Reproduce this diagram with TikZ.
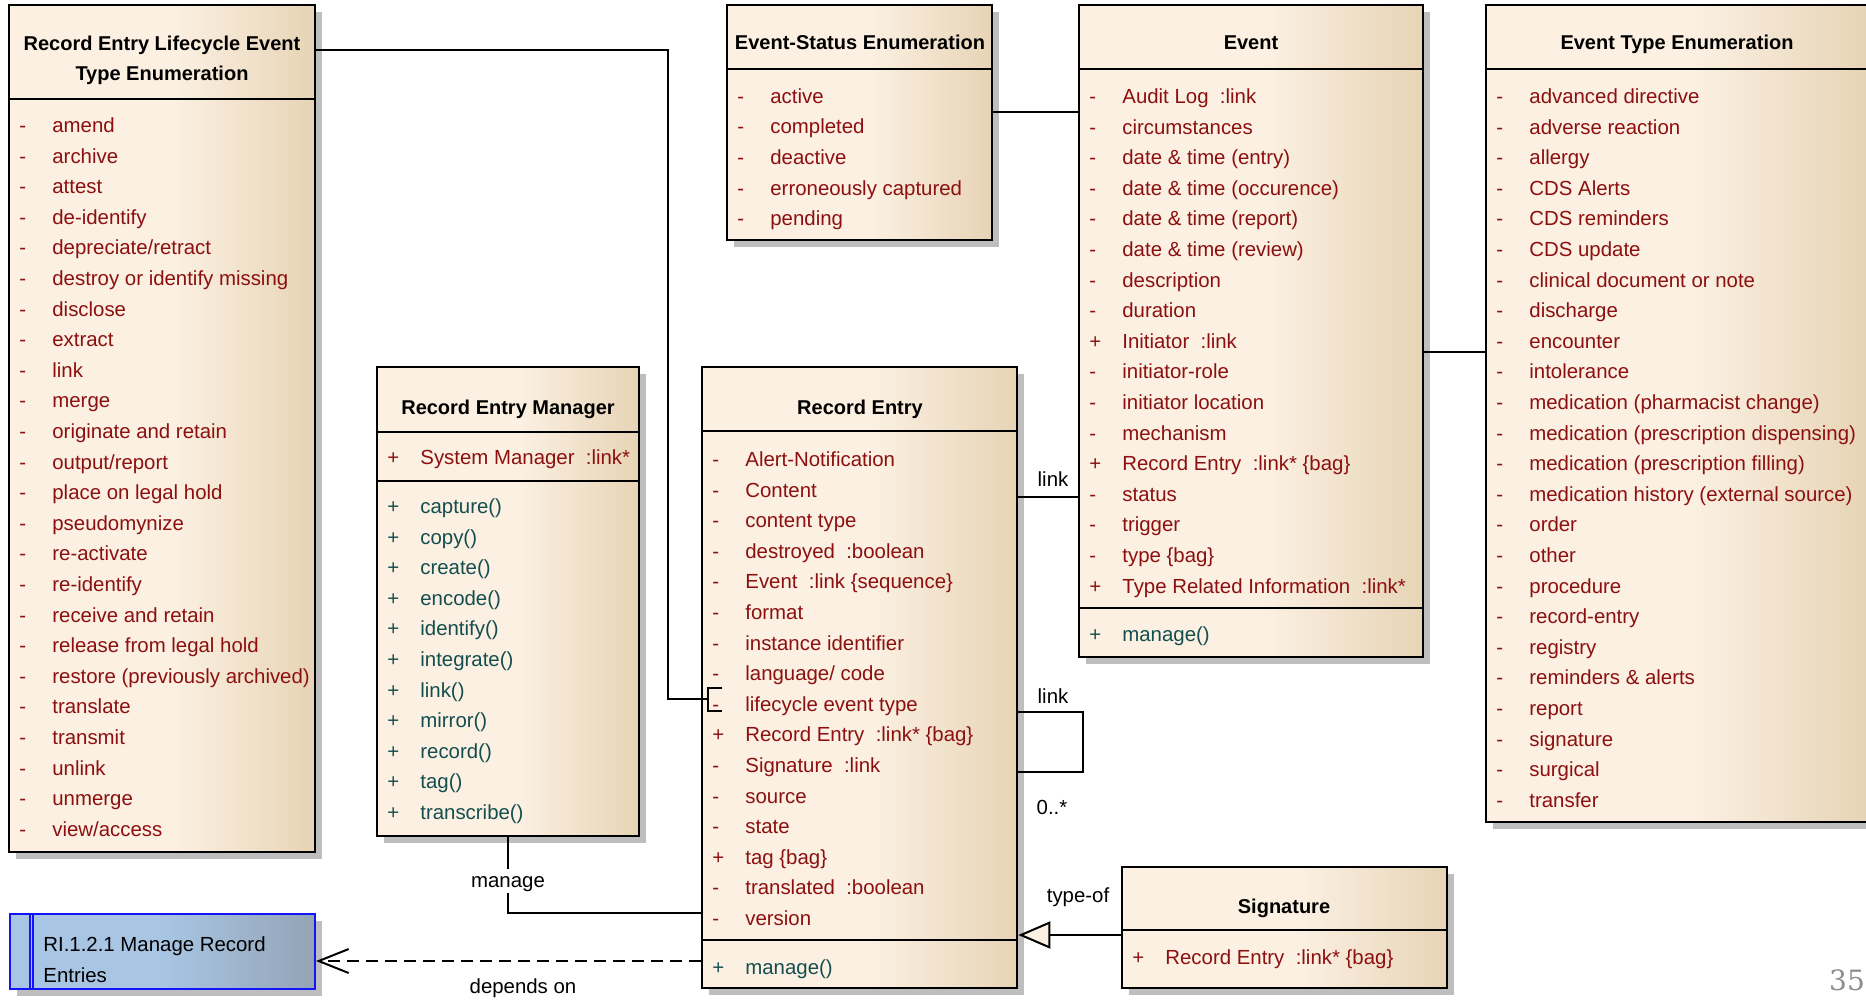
\documentclass[tikz,border=0pt]{standalone}
\usepackage{fontspec}
\setmainfont{Liberation Sans}
\newfontfamily\pagenumfont{DejaVu Serif}
\usetikzlibrary{fit,shadows,arrows.meta}

\definecolor{umlcream}{RGB}{251,240,226}
\definecolor{umltan}{RGB}{231,212,182}
\definecolor{attrred}{RGB}{140,16,16}
\definecolor{opteal}{RGB}{20,78,78}
\definecolor{reqblue}{RGB}{168,197,228}
\definecolor{reqgrey}{RGB}{148,164,182}
\definecolor{reqline}{RGB}{20,20,250}
\definecolor{shadowgrey}{RGB}{190,190,190}
\definecolor{pagegrey}{RGB}{140,140,140}

\pgfdeclarehorizontalshading{umlfill}{100bp}{color(0bp)=(umlcream); color(25bp)=(umlcream); color(52bp)=(umlcream); color(75bp)=(umltan); color(100bp)=(umltan)}
\pgfdeclarehorizontalshading{reqfill}{100bp}{color(0bp)=(reqblue); color(25bp)=(reqblue); color(50bp)=(reqblue); color(75bp)=(reqgrey); color(100bp)=(reqgrey)}

\newcommand{\umlfont}{\fontsize{10.2pt}{15.3pt}\selectfont}
\newcommand{\mk}[1]{\rule{0pt}{8pt}\makebox[16.5pt][l]{#1}}

\begin{document}
\begin{tikzpicture}[x=0.5pt,y=-0.5pt,
    classbox/.style={draw=black,line width=1.3pt,shade,shading=umlfill,inner sep=0pt,
      drop shadow={shadow xshift=3.5pt,shadow yshift=-3.5pt,fill=shadowgrey,opacity=1}},
    reqbox/.style={draw=reqline,line width=1pt,shade,shading=reqfill,inner sep=0pt,
      drop shadow={shadow xshift=3.5pt,shadow yshift=-3.5pt,fill=shadowgrey,opacity=1}},
    umltitle/.style={font=\bfseries\fontsize{10pt}{15pt}\selectfont,anchor=base,inner sep=0pt},
    attrs/.style={font=\umlfont,text=attrred,align=left,anchor=north west,inner sep=0pt},
    ops/.style={attrs,text=opteal},
    lbl/.style={font=\umlfont,anchor=base,inner sep=0pt},
    rulesep/.style={draw=black,line width=1.3pt},
    assoc/.style={draw=black,line width=1pt}]
  \useasboundingbox (0,0) rectangle (1866,1000);

  \node[classbox,fit={(9,5) (315,852)}] (lifecycle) {};
  \node[umltitle,anchor=north,align=center] (lifecycletitle) at (162,34)
    {\rule{0pt}{8pt}Record Entry Lifecycle Event\\Type Enumeration};
  \draw[rulesep] (9,99) -- (315,99);
  \node[attrs] (lifecycleattrs) at (19,116) {%
    \mk{-}amend\\
    \mk{-}archive\\
    \mk{-}attest\\
    \mk{-}de-identify\\
    \mk{-}depreciate/retract\\
    \mk{-}destroy or identify missing\\
    \mk{-}disclose\\
    \mk{-}extract\\
    \mk{-}link\\
    \mk{-}merge\\
    \mk{-}originate and retain\\
    \mk{-}output/report\\
    \mk{-}place on legal hold\\
    \mk{-}pseudomynize\\
    \mk{-}re-activate\\
    \mk{-}re-identify\\
    \mk{-}receive and retain\\
    \mk{-}release from legal hold\\
    \mk{-}restore (previously archived)\\
    \mk{-}translate\\
    \mk{-}transmit\\
    \mk{-}unlink\\
    \mk{-}unmerge\\
    \mk{-}view/access};

  \node[classbox,fit={(727,5) (992,240)}] (evstatus) {};
  \node[umltitle] (evstatustitle) at (860,50) {Event-Status Enumeration};
  \draw[rulesep] (727,69) -- (992,69);
  \node[attrs] (evstatusattrs) at (737,87) {%
    \mk{-}active\\
    \mk{-}completed\\
    \mk{-}deactive\\
    \mk{-}erroneously captured\\
    \mk{-}pending};

  \node[classbox,fit={(1079,5) (1423,657)}] (event) {};
  \node[umltitle] (eventtitle) at (1251,50) {Event};
  \draw[rulesep] (1079,69) -- (1423,69);
  \draw[rulesep] (1079,608) -- (1423,608);
  \node[attrs] (eventattrs) at (1089,87) {%
    \mk{-}Audit Log~~:link\\
    \mk{-}circumstances\\
    \mk{-}date \& time (entry)\\
    \mk{-}date \& time (occurence)\\
    \mk{-}date \& time (report)\\
    \mk{-}date \& time (review)\\
    \mk{-}description\\
    \mk{-}duration\\
    \mk{+}Initiator~~:link\\
    \mk{-}initiator-role\\
    \mk{-}initiator location\\
    \mk{-}mechanism\\
    \mk{+}Record Entry~~:link* \{bag\}\\
    \mk{-}status\\
    \mk{-}trigger\\
    \mk{-}type \{bag\}\\
    \mk{+}Type Related Information~~:link*};
  \node[ops] (eventops) at (1089,625) {\mk{+}manage()};

  \node[classbox,fit={(1486,5) (1868,822)}] (evtype) {};
  \node[umltitle] (evtypetitle) at (1677,50) {Event Type Enumeration};
  \draw[rulesep] (1486,69) -- (1868,69);
  \node[attrs] (evtypeattrs) at (1496,87) {%
    \mk{-}advanced directive\\
    \mk{-}adverse reaction\\
    \mk{-}allergy\\
    \mk{-}CDS Alerts\\
    \mk{-}CDS reminders\\
    \mk{-}CDS update\\
    \mk{-}clinical document or note\\
    \mk{-}discharge\\
    \mk{-}encounter\\
    \mk{-}intolerance\\
    \mk{-}medication (pharmacist change)\\
    \mk{-}medication (prescription dispensing)\\
    \mk{-}medication (prescription filling)\\
    \mk{-}medication history (external source)\\
    \mk{-}order\\
    \mk{-}other\\
    \mk{-}procedure\\
    \mk{-}record-entry\\
    \mk{-}registry\\
    \mk{-}reminders \& alerts\\
    \mk{-}report\\
    \mk{-}signature\\
    \mk{-}surgical\\
    \mk{-}transfer};

  \node[classbox,fit={(377,367) (639,836)}] (manager) {};
  \node[umltitle] (managertitle) at (508,414) {Record Entry Manager};
  \draw[rulesep] (377,432) -- (639,432);
  \draw[rulesep] (377,481) -- (639,481);
  \node[attrs] (managerattrs) at (387,448) {\mk{+}System Manager~~:link*};
  \node[ops] (managerops) at (387,497) {%
    \mk{+}capture()\\
    \mk{+}copy()\\
    \mk{+}create()\\
    \mk{+}encode()\\
    \mk{+}identify()\\
    \mk{+}integrate()\\
    \mk{+}link()\\
    \mk{+}mirror()\\
    \mk{+}record()\\
    \mk{+}tag()\\
    \mk{+}transcribe()};

  \node[classbox,fit={(702,367) (1017,988)}] (record) {};
  \node[umltitle] (recordtitle) at (860,414) {Record Entry};
  \draw[rulesep] (702,431) -- (1017,431);
  \draw[rulesep] (702,940) -- (1017,940);
  \node[attrs] (recordattrs) at (712,450) {%
    \mk{-}Alert-Notification\\
    \mk{-}Content\\
    \mk{-}content type\\
    \mk{-}destroyed~~:boolean\\
    \mk{-}Event~~:link \{sequence\}\\
    \mk{-}format\\
    \mk{-}instance identifier\\
    \mk{-}language/ code\\
    \mk{-}lifecycle event type\\
    \mk{+}Record Entry~~:link* \{bag\}\\
    \mk{-}Signature~~:link\\
    \mk{-}source\\
    \mk{-}state\\
    \mk{+}tag \{bag\}\\
    \mk{-}translated~~:boolean\\
    \mk{-}version};
  \node[ops] (recordops) at (712,958) {\mk{+}manage()};

  \node[classbox,fit={(1122,867) (1447,988)}] (signature) {};
  \node[umltitle] (signaturetitle) at (1284,913) {Signature};
  \draw[rulesep] (1122,930) -- (1447,930);
  \node[attrs] (signatureattrs) at (1132,948) {\mk{+}Record Entry~~:link* \{bag\}};

  \node[reqbox,fit={(10,914) (315,989)}] (reqbox) {};
  \draw[reqline,line width=1pt] (29.5,914) -- (29.5,989) (33,914) -- (33,989);
  \node[attrs,text=black] (reqtext) at (43,935) {\rule{0pt}{8pt}RI.1.2.1 Manage Record\\Entries};

  \coordinate (lcport) at (708,699);
  \begin{scope}[assoc]
    \draw (lifecycle.east |- 0,50) -| (668,699) -- (lcport);
    \draw (lcport) ++(14,-11) -| ++(-14,23) -- ++(14,0);
    \draw (evstatus.east |- 0,112) -- (event.west |- 0,112);
    \draw (event.east |- 0,352) -- (evtype.west |- 0,352);
    \draw (record.east |- 0,497) -- (event.west |- 0,497);
    \draw (record.east |- 0,712) -| (1083,742) |- (record.east |- 0,772);
    \draw (manager.south) |- (record.west |- 0,913);
    \draw[-{Triangle[length=16pt,width=13.5pt,fill=umlcream]}] (signature.west |- 0,935) -- (record.east |- 0,935);
    \draw[dash pattern=on 6pt off 3.5pt,-{Straight Barb[length=15pt,width=12pt]}] (record.west |- 0,961) -- (reqbox.east |- 0,961);
  \end{scope}

  \node[lbl] (eventlinklbl) at (1053,486) {link};
  \node[lbl] (selflinklbl) at (1053,703) {link};
  \node[lbl] (multlbl) at (1052,814) {0..*};
  \node[lbl] (typeoflbl) at (1078,902) {type-of};
  \node[lbl,fill=white,text height=8pt,text depth=2pt,inner sep=1pt] (managelbl) at (508,887) {manage};
  \node[lbl] (dependslbl) at (523,993) {depends on};
  \node[font=\pagenumfont\fontsize{14pt}{16pt}\selectfont,text=pagegrey,anchor=base,inner sep=0pt] (pagenum) at (1847,990) {35};
\end{tikzpicture}
\end{document}
